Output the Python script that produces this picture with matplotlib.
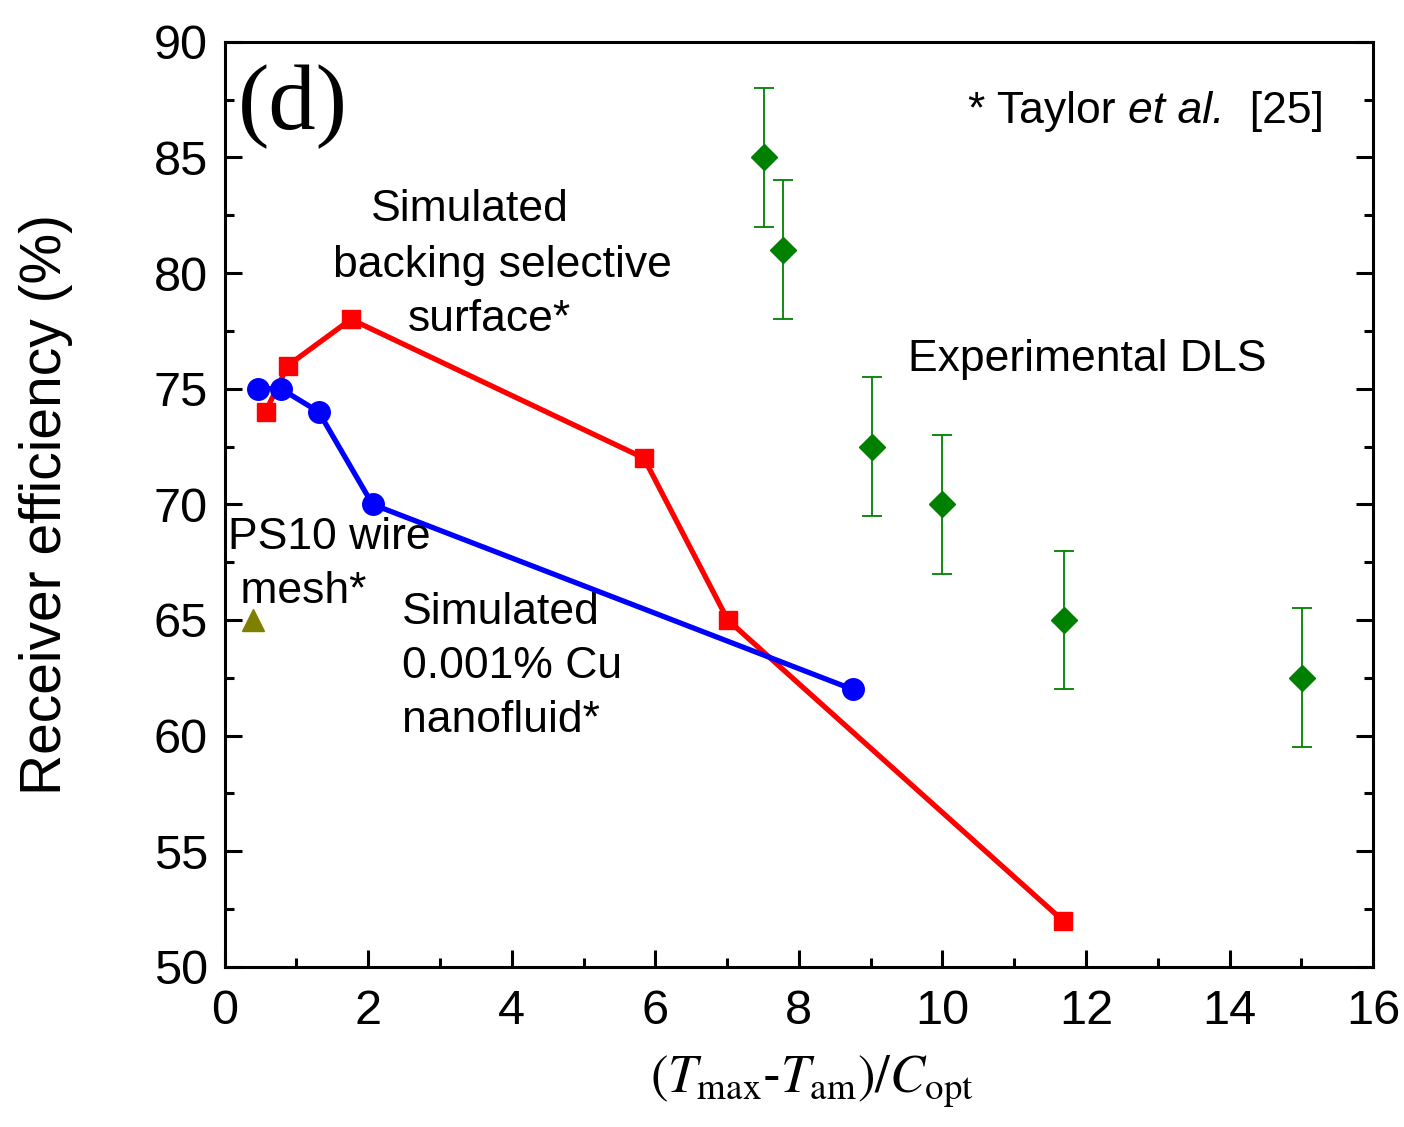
import matplotlib
matplotlib.use('Agg')
import matplotlib.pyplot as plt
from matplotlib.ticker import MultipleLocator

plt.rcParams['font.family'] = ['Liberation Sans', 'DejaVu Sans']
plt.rcParams['mathtext.fontset'] = 'stix'

# simulated backing selective surface (red squares)
x_back = [0.57, 0.88, 1.76, 5.84, 7.01, 11.68]
y_back = [74, 76, 78, 72, 65, 52]

# simulated 0.001% Cu nanofluid (blue circles)
x_cu = [0.47, 0.78, 1.31, 2.06, 8.75]
y_cu = [75, 75, 74, 70, 62]

# experimental DLS, Taylor et al. (green diamonds)
x_dls = [7.51, 7.78, 9.02, 10.0, 11.69, 15.01]
y_dls = [85, 81, 72.5, 70, 65, 62.5]
err_dls = [3, 3, 3, 3, 3, 3]

# PS10 wire mesh
x_mesh = [0.39]
y_mesh = [65]

fig = plt.figure(figsize=(14.04, 11.27), dpi=100)
ax = fig.add_axes([0.160, 0.142, 0.818, 0.821])

ax.plot(x_back, y_back, color='red', lw=3.8, zorder=2)
ax.plot(x_back, y_back, ls='none', marker='s', ms=13, color='red', zorder=3)
ax.plot(x_cu, y_cu, color='blue', lw=3.8, zorder=4)
ax.plot(x_cu, y_cu, ls='none', marker='o', ms=15.5, color='blue', zorder=5)
ax.errorbar(x_dls, y_dls, yerr=err_dls, fmt='D', ms=13, color='#008000',
            ecolor='#008000', elinewidth=1.3, capsize=7, capthick=1.3, zorder=3)
ax.plot(x_mesh, y_mesh, ls='none', marker='^', ms=16, color='#808000', zorder=3)

ax.set_xlim(0, 16)
ax.set_ylim(50, 90)
ax.xaxis.set_major_locator(MultipleLocator(2))
ax.xaxis.set_minor_locator(MultipleLocator(1))
ax.yaxis.set_major_locator(MultipleLocator(5))
ax.yaxis.set_minor_locator(MultipleLocator(2.5))
ax.tick_params(which='both', direction='in', right=True, top=False,
               width=2.2, labelsize=35)
ax.tick_params(axis='y', which='both', pad=12)
ax.tick_params(axis='x', which='both', pad=16)
ax.tick_params(which='major', length=12)
ax.tick_params(which='minor', length=6.5)
for s in ax.spines.values():
    s.set_linewidth(2.2)

ax.set_ylabel('Receiver efficiency (%)', fontsize=41, labelpad=58)
ax.set_xlabel(r'$(T_{\rm max}$-$T_{\rm am})/C_{\rm opt}$', fontsize=38, labelpad=14)
ax.xaxis.label.set_x(0.511)

ax.text(0.18, 87.2, '(d)', fontsize=68, family='Liberation Serif',
        ha='left', va='center')
# three centred lines, each placed as in the original
ax.text(3.41, 82.74, 'Simulated', fontsize=32, ha='center', va='center')
ax.text(3.87, 80.31, 'backing selective', fontsize=32, ha='center', va='center')
ax.text(3.69, 77.98, 'surface*', fontsize=32, ha='center', va='center')
ax.text(9.52, 76.25, 'Experimental DLS', fontsize=32, ha='left', va='center')
ax.text(0.04, 67.4, 'PS10 wire\n mesh*', fontsize=32, ha='left', va='center',
        linespacing=1.4)
ax.text(2.47, 63.0, 'Simulated\n0.001% Cu\nnanofluid*', fontsize=32,
        ha='left', va='center', linespacing=1.4)
t1 = ax.text(10.36, 86.97, '* Taylor ', fontsize=32, ha='left', va='center')
t2 = ax.annotate('et al.', xy=(1, 0), xycoords=t1, fontsize=32,
                 style='italic', ha='left', va='bottom')
ax.annotate('  [25]', xy=(1, 0), xycoords=t2, fontsize=32, ha='left', va='bottom')

fig.savefig('out.png', dpi=100)
